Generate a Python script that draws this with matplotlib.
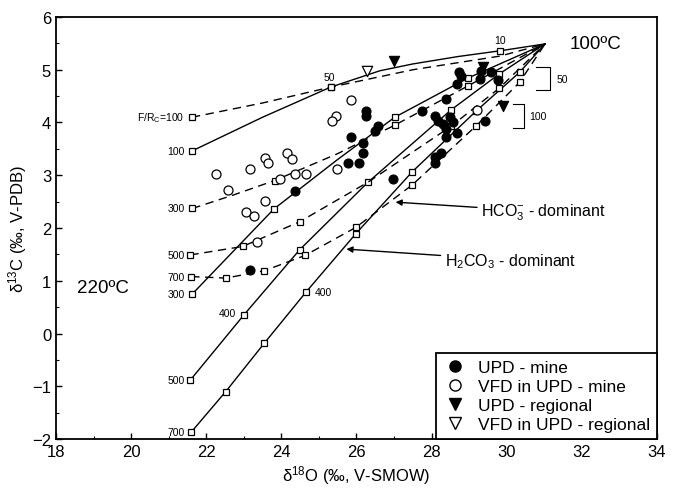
import matplotlib
matplotlib.use("Agg")
import matplotlib.pyplot as plt
from matplotlib.lines import Line2D

plt.rcParams['font.family'] = ['Liberation Sans', 'DejaVu Sans']
plt.rcParams['mathtext.fontset'] = 'custom'
plt.rcParams['mathtext.rm'] = 'Liberation Sans'
plt.rcParams['mathtext.it'] = 'Liberation Sans:italic'
plt.rcParams['mathtext.bf'] = 'Liberation Sans:bold'

# ---- model curves (solid) ----
s100_x = [21.62, 23.5, 25.31, 26.62, 27.5, 28.7, 29.83, 31.02]
s100_y = [3.46, 4.10, 4.67, 4.98, 5.11, 5.25, 5.36, 5.49]
s100_marks = [0, 2, 6]
s300_x = [21.63, 23.80, 25.5, 27.02, 28.96, 31.02]
s300_y = [0.75, 2.36, 3.30, 4.10, 4.84, 5.49]
s300_marks = [0, 1, 3, 4]
s500_x = [21.58, 23.0, 24.49, 26.31, 28.52, 29.8, 31.02]
s500_y = [-0.88, 0.35, 1.59, 2.87, 4.24, 4.92, 5.49]
s500_marks = [0, 1, 2, 3, 4, 5]
s700_x = [21.6, 22.52, 23.55, 24.65, 25.98, 27.49, 29.19, 30.34, 31.02]
s700_y = [-1.87, -1.10, -0.18, 0.78, 1.89, 3.07, 4.22, 4.95, 5.49]
s700_marks = [0, 1, 2, 3, 4, 5, 6, 7]

# ---- model curves (dashed) ----
d100_x = [21.62, 23.5, 25.31, 27.5, 29.83, 31.02]
d100_y = [4.10, 4.37, 4.67, 5.00, 5.26, 5.49]
d100_marks = [0, 2]
d300_x = [21.63, 22.7, 23.82, 25.5, 27.02, 28.96, 31.02]
d300_y = [2.37, 2.62, 2.90, 3.41, 3.95, 4.69, 5.49]
d300_marks = [0, 2, 4, 5]
d500_x = [21.58, 22.97, 24.49, 26.31, 28.52, 29.8, 31.02]
d500_y = [1.49, 1.65, 2.12, 2.87, 3.93, 4.65, 5.49]
d500_marks = [0, 1, 2, 4, 5]
d700_x = [21.6, 22.52, 23.55, 24.63, 25.98, 27.49, 29.19, 30.34, 31.02]
d700_y = [1.08, 1.05, 1.19, 1.48, 2.01, 2.82, 3.94, 4.76, 5.49]
d700_marks = [0, 1, 2, 3, 4, 5, 6, 7]

# ---- samples ----
upd_mine_x = [26.26, 26.26, 26.57, 26.49, 25.86, 26.17, 26.17, 25.77, 26.07, 24.36, 26.97, 23.16,
              28.74, 28.78, 28.67, 29.32, 29.59, 29.28, 29.77, 28.39, 27.75, 28.08, 28.17, 28.48,
              28.57, 28.30, 28.67, 28.39, 28.39, 28.26, 28.08, 28.08, 29.41]
upd_mine_y = [4.22, 4.13, 3.93, 3.83, 3.73, 3.62, 3.42, 3.23, 3.23, 2.71, 2.92, 1.21,
              4.95, 4.89, 4.73, 4.98, 4.95, 4.82, 4.81, 4.45, 4.22, 4.13, 4.02, 4.10,
              4.00, 3.98, 3.81, 3.88, 3.72, 3.43, 3.34, 3.23, 4.03]
vfd_mine_x = [25.86, 25.46, 25.36, 24.15, 24.27, 23.56, 23.65, 23.16, 22.27, 22.57, 24.37, 24.65,
              23.96, 25.48, 23.56, 23.07, 23.27, 23.35, 29.20]
vfd_mine_y = [4.43, 4.13, 4.02, 3.42, 3.31, 3.33, 3.23, 3.12, 3.02, 2.72, 3.02, 3.02,
              2.92, 3.12, 2.52, 2.31, 2.22, 1.73, 4.24]
upd_reg_x = [27.0, 29.38, 29.91]
upd_reg_y = [5.16, 5.05, 4.32]
vfd_reg_x = [26.28]
vfd_reg_y = [4.97]

fig = plt.figure(figsize=(6.73, 4.89), dpi=100)
ax = fig.add_axes([0.0832, 0.1002, 0.893, 0.8630])

lw = 1.0
sq = dict(marker='s', ms=4.2, mfc='white', mec='black', mew=0.9)
for xs, ys, mk in [(s100_x, s100_y, s100_marks), (s300_x, s300_y, s300_marks),
                   (s500_x, s500_y, s500_marks), (s700_x, s700_y, s700_marks)]:
    ax.plot(xs, ys, '-', color='black', lw=lw, markevery=mk, zorder=2, **sq)
for xs, ys, mk in [(d100_x, d100_y, d100_marks), (d300_x, d300_y, d300_marks),
                   (d500_x, d500_y, d500_marks), (d700_x, d700_y, d700_marks)]:
    ax.plot(xs, ys, color='black', lw=lw, dashes=(6, 4), markevery=mk, zorder=2, **sq)

ax.scatter(upd_mine_x, upd_mine_y, s=42, marker='o', facecolor='black', edgecolor='black', lw=0.8, zorder=4)
ax.scatter(vfd_mine_x, vfd_mine_y, s=42, marker='o', facecolor='white', edgecolor='black', lw=0.9, zorder=4)
ax.scatter(upd_reg_x, upd_reg_y, s=55, marker='v', facecolor='black', edgecolor='black', lw=0.8, zorder=4)
ax.scatter(vfd_reg_x, vfd_reg_y, s=55, marker='v', facecolor='white', edgecolor='black', lw=0.9, zorder=4)

# curve labels
fs_small = 7.5
lab_kw = dict(fontsize=fs_small, ha='right', va='center')
ax.text(21.42, 4.10, 'F/R$_\\mathregular{C}$=100', **lab_kw)
ax.text(21.42, 3.46, '100', **lab_kw)
ax.text(21.42, 2.37, '300', **lab_kw)
ax.text(21.42, 1.49, '500', **lab_kw)
ax.text(21.42, 1.08, '700', **lab_kw)
ax.text(21.42, 0.75, '300', **lab_kw)
ax.text(21.42, -0.88, '500', **lab_kw)
ax.text(21.42, -1.87, '700', **lab_kw)
ax.text(22.80, 0.39, '400', **lab_kw)
ax.text(24.90, 0.79, '400', fontsize=fs_small, ha='left', va='center')
ax.text(25.29, 4.86, '50', fontsize=fs_small, ha='center', va='center')
ax.text(29.83, 5.57, '10', fontsize=fs_small, ha='center', va='center')

ax.text(31.67, 5.49, '100ºC', fontsize=13.5, ha='left', va='center')
ax.text(18.55, 0.88, '220ºC', fontsize=13.5, ha='left', va='center')

# brackets
ax.plot([30.78, 31.14, 31.14, 30.78], [5.05, 5.05, 4.61, 4.61], color='black', lw=0.8)
ax.text(31.32, 4.82, '50', fontsize=fs_small, ha='left', va='center')
ax.plot([30.16, 30.47, 30.47, 30.16], [4.35, 4.35, 3.90, 3.90], color='black', lw=0.8)
ax.text(30.60, 4.12, '100', fontsize=fs_small, ha='left', va='center')

# arrows
ax.annotate('HCO$_\\mathregular{3}^{\\mathregular{-}}$ - dominant', xy=(27.04, 2.49), xytext=(29.32, 2.31),
            fontsize=11.5, ha='left', va='center',
            arrowprops=dict(arrowstyle='-|>', color='black', lw=1.0, mutation_scale=9, shrinkA=1, shrinkB=0))
ax.annotate('H$_\\mathregular{2}$CO$_\\mathregular{3}$ - dominant', xy=(25.73, 1.60), xytext=(28.35, 1.39),
            fontsize=11.5, ha='left', va='center',
            arrowprops=dict(arrowstyle='-|>', color='black', lw=1.0, mutation_scale=9, shrinkA=1, shrinkB=0))

ax.set_xlim(18, 34)
ax.set_ylim(-2, 6)
ax.set_xticks(range(18, 35, 2))
ax.set_yticks(range(-2, 7, 1))
ax.set_xticks(range(19, 34, 2), minor=True)
ax.set_yticks([v + 0.5 for v in range(-2, 6)], minor=True)
ax.tick_params(which='both', direction='in', top=False, right=False, labelsize=12)
ax.tick_params(which='major', length=4, width=1)
ax.tick_params(which='minor', length=2.5, width=0.8)
for sp in ax.spines.values():
    sp.set_linewidth(1.3)

ax.set_xlabel('δ$^{\\mathregular{18}}$O (‰, V-SMOW)', fontsize=12, labelpad=3)
ax.set_ylabel('δ$^{\\mathregular{13}}$C (‰, V-PDB)', fontsize=12, labelpad=2)

handles = [
    Line2D([], [], ls='none', marker='o', ms=8, mfc='black', mec='black'),
    Line2D([], [], ls='none', marker='o', ms=8, mfc='white', mec='black'),
    Line2D([], [], ls='none', marker='v', ms=8.5, mfc='black', mec='black'),
    Line2D([], [], ls='none', marker='v', ms=8.5, mfc='white', mec='black'),
]
labels = ['UPD - mine', 'VFD in UPD - mine', 'UPD - regional', 'VFD in UPD - regional']
leg = ax.legend(handles, labels, loc='lower right', bbox_to_anchor=(1, 0), borderaxespad=0,
                fontsize=12.5, frameon=True, fancybox=False, framealpha=1, edgecolor='black',
                labelspacing=0.22, handletextpad=0.6, handlelength=1.4, borderpad=0.4)
leg.get_frame().set_linewidth(1.3)

fig.savefig('out.png', dpi=100)
